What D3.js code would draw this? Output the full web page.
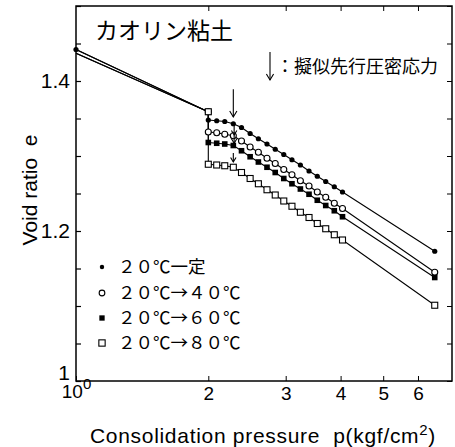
<!DOCTYPE html>
<html>
<head>
<meta charset="utf-8">
<script src="https://cdn.jsdelivr.net/npm/d3@7/dist/d3.min.js"></script>
<style>
  html, body { margin: 0; padding: 0; background: #fff; }
  svg { display: block; }
  text { white-space: pre; }
  .lat { font-family: "Liberation Sans", Arial, Helvetica, sans-serif; }
  .jp { font-family: "Noto Sans CJK JP", "Noto Sans CJK SC", sans-serif; }
</style>
</head>
<body>
<svg id="chart" width="455" height="447"></svg>
<script>
// Consolidation pressure (kgf/cm²) at each loading step; 2.0 appears twice
// (before and after the temperature change at constant load)
const pressures = [1.0, 2.0, 2.0, 2.09, 2.18, 2.28, 2.38, 2.49, 2.60, 2.72, 2.84,
                   2.97, 3.10, 3.24, 3.39, 3.54, 3.70, 3.87, 4.04, 6.55];

// Void ratio e for each test
const e20const = [1.442, 1.359, 1.348, 1.347, 1.346, 1.343, 1.338, 1.330, 1.323, 1.316, 1.309,
                  1.302, 1.295, 1.288, 1.280, 1.273, 1.266, 1.259, 1.252, 1.173];
const e20to40  = [1.442, 1.359, 1.332, 1.331, 1.329, 1.327, 1.320, 1.312, 1.305, 1.297, 1.290,
                  1.282, 1.275, 1.267, 1.260, 1.252, 1.245, 1.237, 1.230, 1.145];
const e20to60  = [1.437, 1.359, 1.318, 1.317, 1.316, 1.314, 1.307, 1.299, 1.292, 1.285, 1.278,
                  1.270, 1.263, 1.256, 1.249, 1.241, 1.234, 1.227, 1.219, 1.138];
const e20to80  = [1.437, 1.359, 1.289, 1.288, 1.287, 1.285, 1.278, 1.270, 1.263, 1.255, 1.248,
                  1.240, 1.233, 1.225, 1.218, 1.210, 1.203, 1.195, 1.188, 1.101];

const seriesNames = ["２０℃一定", "２０℃→４０℃", "２０℃→６０℃", "２０℃→８０℃"];
const seriesMarks = ["dot", "circle", "square", "openSquare"];

// Quasi preconsolidation stress arrows: pressure, arrow tail e, arrow tip e
const yieldP    = [2.28, 2.29, 2.29, 2.28];
const arrowTail = [1.389, 1.341, 1.328, 1.304];
const arrowTip  = [1.352, 1.328, 1.317, 1.292];

// Axis ticks
const xTicks = [1, 2, 3, 4, 5, 6];
const xTickLabels = ["10", "2", "3", "4", "5", "6"];
const yTicks = [1.0, 1.05, 1.1, 1.15, 1.2, 1.25, 1.3, 1.35, 1.4, 1.45, 1.5];
const yLabelled = {"1": "1", "1.2": "1.2", "1.4": "1.4"};

const svg = d3.select("#chart");
const m = {left: 76, right: 452, top: 6, bottom: 381};

const x = d3.scaleLog().domain([1, 7.17]).range([m.left, m.right]);
const y = d3.scaleLinear().domain([1.0, 1.5]).range([m.bottom, m.top]);

// frame
svg.append("rect")
  .attr("x", m.left).attr("y", m.top)
  .attr("width", m.right - m.left).attr("height", m.bottom - m.top)
  .attr("fill", "none").attr("stroke", "#000").attr("stroke-width", 1.5);

// inward ticks on all four sides
const tk = 5;
const leftAx = d3.axisLeft(y).tickValues(yTicks).tickSizeInner(-tk).tickSizeOuter(0)
  .tickFormat(d => yLabelled[String(+d.toFixed(2))] || "").tickPadding(6);
const gl = svg.append("g").attr("transform", `translate(${m.left},0)`).call(leftAx);
gl.select(".domain").remove();
gl.selectAll("text").attr("class", "lat").attr("font-size", 21).attr("fill", "#000");
gl.selectAll("line").attr("stroke-width", 1.2);
gl.selectAll(".tick").filter(d => d === 1.0).select("text").attr("dy", "-0.05em").attr("x", -6);

const rightAx = d3.axisRight(y).tickValues(yTicks).tickSizeInner(-tk).tickSizeOuter(0).tickFormat("");
const gr = svg.append("g").attr("transform", `translate(${m.right},0)`).call(rightAx);
gr.select(".domain").remove();

const bottomAx = d3.axisBottom(x).tickValues(xTicks).tickSizeInner(-tk).tickSizeOuter(0)
  .tickFormat((d, i) => xTickLabels[i]).tickPadding(6);
const gb = svg.append("g").attr("transform", `translate(0,${m.bottom})`).call(bottomAx);
gb.select(".domain").remove();
gb.selectAll("text").attr("class", "lat").attr("font-size", 19).attr("fill", "#000");
gb.selectAll(".tick").filter(d => d === 1).select("text")
  .attr("x", 0).attr("dy", "0.6em")
  .append("tspan").attr("font-size", 15).attr("dy", "-0.6em").text("0");

const topAx = d3.axisTop(x).tickValues(xTicks.slice(1)).tickSizeInner(-tk).tickSizeOuter(0).tickFormat("");
const gt = svg.append("g").attr("transform", `translate(0,${m.top})`).call(topAx);
gt.select(".domain").remove();

// axis titles
const xt = svg.append("text").attr("class", "lat").attr("font-size", 21)
  .attr("letter-spacing", 0.7)
  .attr("x", 263).attr("y", 443).attr("text-anchor", "middle");
xt.append("tspan").text("Consolidation pressure  p(kgf/cm");
xt.append("tspan").attr("font-size", 15).attr("dy", -8).text("2");
xt.append("tspan").attr("dy", 8).text(")");

svg.append("text").attr("class", "lat").attr("font-size", 21)
  .attr("transform", "translate(37,190) rotate(-90)")
  .attr("text-anchor", "middle").text("Void ratio  e");

// curves
const allSeries = [e20const, e20to40, e20to60, e20to80];
const line = d3.line().x((d, i) => x(pressures[i])).y(d => y(d));
const plot = svg.append("g");

allSeries.forEach(vals => {
  plot.append("path").datum(vals).attr("d", line)
    .attr("fill", "none").attr("stroke", "#000").attr("stroke-width", 1.1);
});

function drawMark(g, kind, cx, cy, s) {
  if (kind === "dot") {
    g.append("circle").attr("cx", cx).attr("cy", cy).attr("r", 2.6 * s).attr("fill", "#000");
  } else if (kind === "circle") {
    g.append("circle").attr("cx", cx).attr("cy", cy).attr("r", 3 * s)
      .attr("fill", "#fff").attr("stroke", "#000").attr("stroke-width", 1.1);
  } else if (kind === "square") {
    const h = 2.8 * s;
    g.append("rect").attr("x", cx - h).attr("y", cy - h).attr("width", 2 * h).attr("height", 2 * h)
      .attr("fill", "#000");
  } else {
    const h = 3 * s;
    g.append("rect").attr("x", cx - h).attr("y", cy - h).attr("width", 2 * h).attr("height", 2 * h)
      .attr("fill", "#fff").attr("stroke", "#000").attr("stroke-width", 1.1);
  }
}

allSeries.forEach((vals, k) => {
  vals.forEach((v, i) => {
    if (i === 0 && k !== 0) return;
    drawMark(plot, seriesMarks[k], x(pressures[i]), y(v), 1);
  });
});

// yield arrows
function arrow(g, ax, y0, y1, head) {
  g.append("line").attr("x1", ax).attr("x2", ax).attr("y1", y0).attr("y2", y1)
    .attr("stroke", "#000").attr("stroke-width", 1.1);
  g.append("path")
    .attr("d", `M${ax - head * 0.6},${y1 - head} L${ax},${y1} L${ax + head * 0.6},${y1 - head}`)
    .attr("fill", "none").attr("stroke", "#000").attr("stroke-width", 1.1);
}
yieldP.forEach((p, k) => {
  arrow(plot, x(p), y(arrowTail[k]), y(arrowTip[k]), k === 0 ? 6 : 4.5);
});

// title
svg.append("text").attr("class", "jp").attr("font-size", 23)
  .attr("x", 95).attr("y", 39).text("カオリン粘土");

// arrow key
arrow(svg, 270, 52, 80, 6);
svg.append("text").attr("class", "jp").attr("font-size", 18)
  .attr("x", 276).attr("y", 73).text("：擬似先行圧密応力");

// legend
const legY = [267, 293, 318, 343];
seriesNames.forEach((name, k) => {
  drawMark(svg, seriesMarks[k], 102, legY[k], k === 0 ? 0.85 : (k === 3 ? 1.05 : 0.95));
  svg.append("text").attr("class", "jp").attr("font-size", 17.5)
    .attr("x", 118).attr("y", legY[k]).attr("dy", "0.36em").text(name);
});
</script>
</body>
</html>
